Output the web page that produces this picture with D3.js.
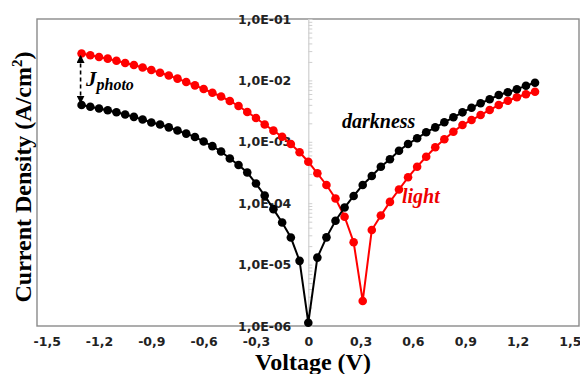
<!DOCTYPE html>
<html>
<head>
<meta charset="utf-8">
<script src="https://cdn.jsdelivr.net/npm/d3@7"></script>
<style>
  body { margin: 0; background: #fff; }
  .tick-label { font-family: "DejaVu Sans", sans-serif; font-weight: bold; font-size: 12.5px; fill: #222; }
  .axis-title { font-family: "Liberation Serif", "Times New Roman", serif; font-weight: bold; font-size: 24px; fill: #000; }
  .note { font-family: "Liberation Serif", "Times New Roman", serif; font-weight: bold; font-style: italic; }
</style>
</head>
<body>
<div id="chart"></div>
<script>
// Voltage steps (V), shared by both sweeps
const voltage = [
  -1.30, -1.25, -1.20, -1.15, -1.10, -1.05, -1.00, -0.95, -0.90, -0.85,
  -0.80, -0.75, -0.70, -0.65, -0.60, -0.55, -0.50, -0.45, -0.40, -0.35,
  -0.30, -0.25, -0.20, -0.15, -0.10, -0.05, 0.00,
  0.052, 0.104, 0.156, 0.208, 0.260, 0.312, 0.364, 0.416, 0.468, 0.520,
  0.572, 0.624, 0.676, 0.728, 0.780, 0.832, 0.884, 0.936, 0.988, 1.040,
  1.092, 1.144, 1.196, 1.248, 1.300
];

// Current density (A/cm2) in darkness
const darkCurrent = [
  3.97e-3, 3.73e-3, 3.49e-3, 3.27e-3, 3.03e-3, 2.78e-3, 2.55e-3, 2.31e-3, 2.06e-3, 1.91e-3,
  1.72e-3, 1.53e-3, 1.36e-3, 1.20e-3, 1.01e-3, 8.5e-4, 6.95e-4, 5.35e-4, 4.19e-4, 3.16e-4,
  2.09e-4, 1.33e-4, 8.0e-5, 4.85e-5, 2.76e-5, 1.15e-5, 1.13e-6,
  1.30e-5, 2.78e-5, 5.19e-5, 8.5e-5, 1.31e-4, 1.98e-4, 2.77e-4, 3.93e-4, 5.19e-4, 7.16e-4,
  9.2e-4, 1.14e-3, 1.43e-3, 1.72e-3, 2.08e-3, 2.51e-3, 3.02e-3, 3.59e-3, 4.24e-3, 4.92e-3,
  5.78e-3, 6.40e-3, 7.16e-3, 8.2e-3, 9.18e-3
];

// Current density (A/cm2) under light
const lightCurrent = [
  2.74e-2, 2.57e-2, 2.40e-2, 2.26e-2, 2.09e-2, 1.92e-2, 1.78e-2, 1.62e-2, 1.48e-2, 1.33e-2,
  1.20e-2, 1.07e-2, 9.4e-3, 8.3e-3, 7.24e-3, 6.3e-3, 5.47e-3, 4.62e-3, 3.83e-3, 3.06e-3,
  2.44e-3, 1.91e-3, 1.52e-3, 1.21e-3, 9.2e-4, 6.75e-4, 4.74e-4,
  3.07e-4, 1.98e-4, 1.19e-4, 6.03e-5, 2.31e-5, 2.55e-6, 3.66e-5, 6.3e-5, 1.05e-4, 1.67e-4,
  2.64e-4, 3.93e-4, 5.72e-4, 8.13e-4, 1.10e-3, 1.46e-3, 1.88e-3, 2.26e-3, 2.73e-3, 3.30e-3,
  3.97e-3, 4.67e-3, 5.31e-3, 5.94e-3, 6.55e-3
];

// Tick values and labels
const xTickValues = [-1.5, -1.2, -0.9, -0.6, -0.3, 0, 0.3, 0.6, 0.9, 1.2, 1.5];
const xTickLabels = ["-1,5", "-1,2", "-0,9", "-0,6", "-0,3", "0", "0,3", "0,6", "0,9", "1,2", "1,5"];
const yTickValues = [1e-6, 1e-5, 1e-4, 1e-3, 1e-2, 1e-1];
const yTickLabels = ["1,0E-06", "1,0E-05", "1,0E-04", "1,0E-03", "1,0E-02", "1,0E-01"];

const width = 580, height = 374;
const plot = { left: 37, right: 579, top: 19, bottom: 326 };

const svg = d3.select("#chart")
  .append("svg")
  .attr("width", width)
  .attr("height", height);

const x = d3.scaleLinear().domain([-1.5, 1.5]).range([46.7, 569.9]);
const y = d3.scaleLog().domain([1e-6, 1e-1]).range([plot.bottom, plot.top]);

// plot frame
svg.append("rect")
  .attr("x", plot.left)
  .attr("y", plot.top)
  .attr("width", plot.right - plot.left)
  .attr("height", plot.bottom - plot.top)
  .attr("fill", "none")
  .attr("stroke", "#8a8a8a")
  .attr("stroke-width", 1.4);

// vertical axis at V = 0 with minor ticks
const minorTicks = [];
yTickValues.slice(0, -1).forEach(v => {
  for (let m = 2; m <= 9; m++) minorTicks.push(v * m);
});

const yMinor = svg.append("g")
  .attr("transform", `translate(${x(0)},0)`)
  .call(d3.axisRight(y).tickValues(yTickValues.concat(minorTicks)).tickSize(4).tickFormat(""));
yMinor.selectAll("line").attr("stroke", "#cfcfcf");
yMinor.select(".domain").attr("stroke", "#cfcfcf").attr("stroke-width", 1.2);

const yAxis = svg.append("g")
  .attr("transform", `translate(${x(0)},0)`)
  .call(d3.axisLeft(y)
    .tickValues(yTickValues)
    .tickSize(0)
    .tickPadding(17)
    .tickFormat((d, i) => yTickLabels[i]));
yAxis.select(".domain").remove();
yAxis.selectAll("text").attr("class", "tick-label");

const xAxis = svg.append("g")
  .attr("transform", `translate(0,${plot.bottom})`)
  .call(d3.axisBottom(x)
    .tickValues(xTickValues)
    .tickSize(0)
    .tickPadding(11)
    .tickFormat((d, i) => xTickLabels[i]));
xAxis.select(".domain").remove();
xAxis.selectAll("text").attr("class", "tick-label");

// axis titles
svg.append("text")
  .attr("class", "axis-title")
  .attr("x", 313)
  .attr("y", 370)
  .attr("text-anchor", "middle")
  .text("Voltage (V)");

const yTitle = svg.append("text")
  .attr("class", "axis-title")
  .attr("text-anchor", "middle")
  .attr("transform", "translate(31,177) rotate(-90)");
yTitle.append("tspan").text("Current Density (A/cm");
yTitle.append("tspan").attr("dy", -9).attr("font-size", 15).text("2");
yTitle.append("tspan").attr("dy", 9).text(")");

// series
const series = [
  { name: "light", values: lightCurrent, color: "#ff0000" },
  { name: "darkness", values: darkCurrent, color: "#000000" }
];

const line = d3.line()
  .x(d => x(d.v))
  .y(d => y(d.j));

series.forEach(s => {
  const pts = voltage.map((v, i) => ({ v: v, j: s.values[i] }));
  const g = svg.append("g");
  g.append("path")
    .datum(pts)
    .attr("fill", "none")
    .attr("stroke", s.color)
    .attr("stroke-width", 2)
    .attr("d", line);
  g.selectAll("circle")
    .data(pts)
    .enter()
    .append("circle")
    .attr("cx", d => x(d.v))
    .attr("cy", d => y(d.j))
    .attr("r", 4.3)
    .attr("fill", s.color);
});

// labels on the curves
svg.append("text")
  .attr("class", "note")
  .attr("x", 342)
  .attr("y", 128)
  .attr("font-size", 20)
  .attr("fill", "#000")
  .text("darkness");

svg.append("text")
  .attr("class", "note")
  .attr("x", 402)
  .attr("y", 203)
  .attr("font-size", 20)
  .attr("fill", "#ee0000")
  .text("light");

// J photo arrow between the two curves at -1.3 V
svg.append("defs").append("marker")
  .attr("id", "head")
  .attr("viewBox", "0 0 10 10")
  .attr("refX", 8)
  .attr("refY", 5)
  .attr("markerWidth", 5)
  .attr("markerHeight", 5)
  .attr("orient", "auto-start-reverse")
  .append("path")
  .attr("d", "M0,0 L10,5 L0,10 z")
  .attr("fill", "#000");

const xArrow = x(voltage[0]) - 1;
svg.append("line")
  .attr("x1", xArrow)
  .attr("x2", xArrow)
  .attr("y1", y(lightCurrent[0]) + 3)
  .attr("y2", y(darkCurrent[0]) - 3)
  .attr("stroke", "#000")
  .attr("stroke-width", 1.6)
  .attr("stroke-dasharray", "4,3")
  .attr("marker-start", "url(#head)")
  .attr("marker-end", "url(#head)");

const jLabel = svg.append("text")
  .attr("class", "note")
  .attr("x", 86)
  .attr("y", 86)
  .attr("font-size", 21);
jLabel.append("tspan").text("J");
jLabel.append("tspan").attr("dy", 4).attr("font-size", 16).text("photo");
</script>
</body>
</html>
